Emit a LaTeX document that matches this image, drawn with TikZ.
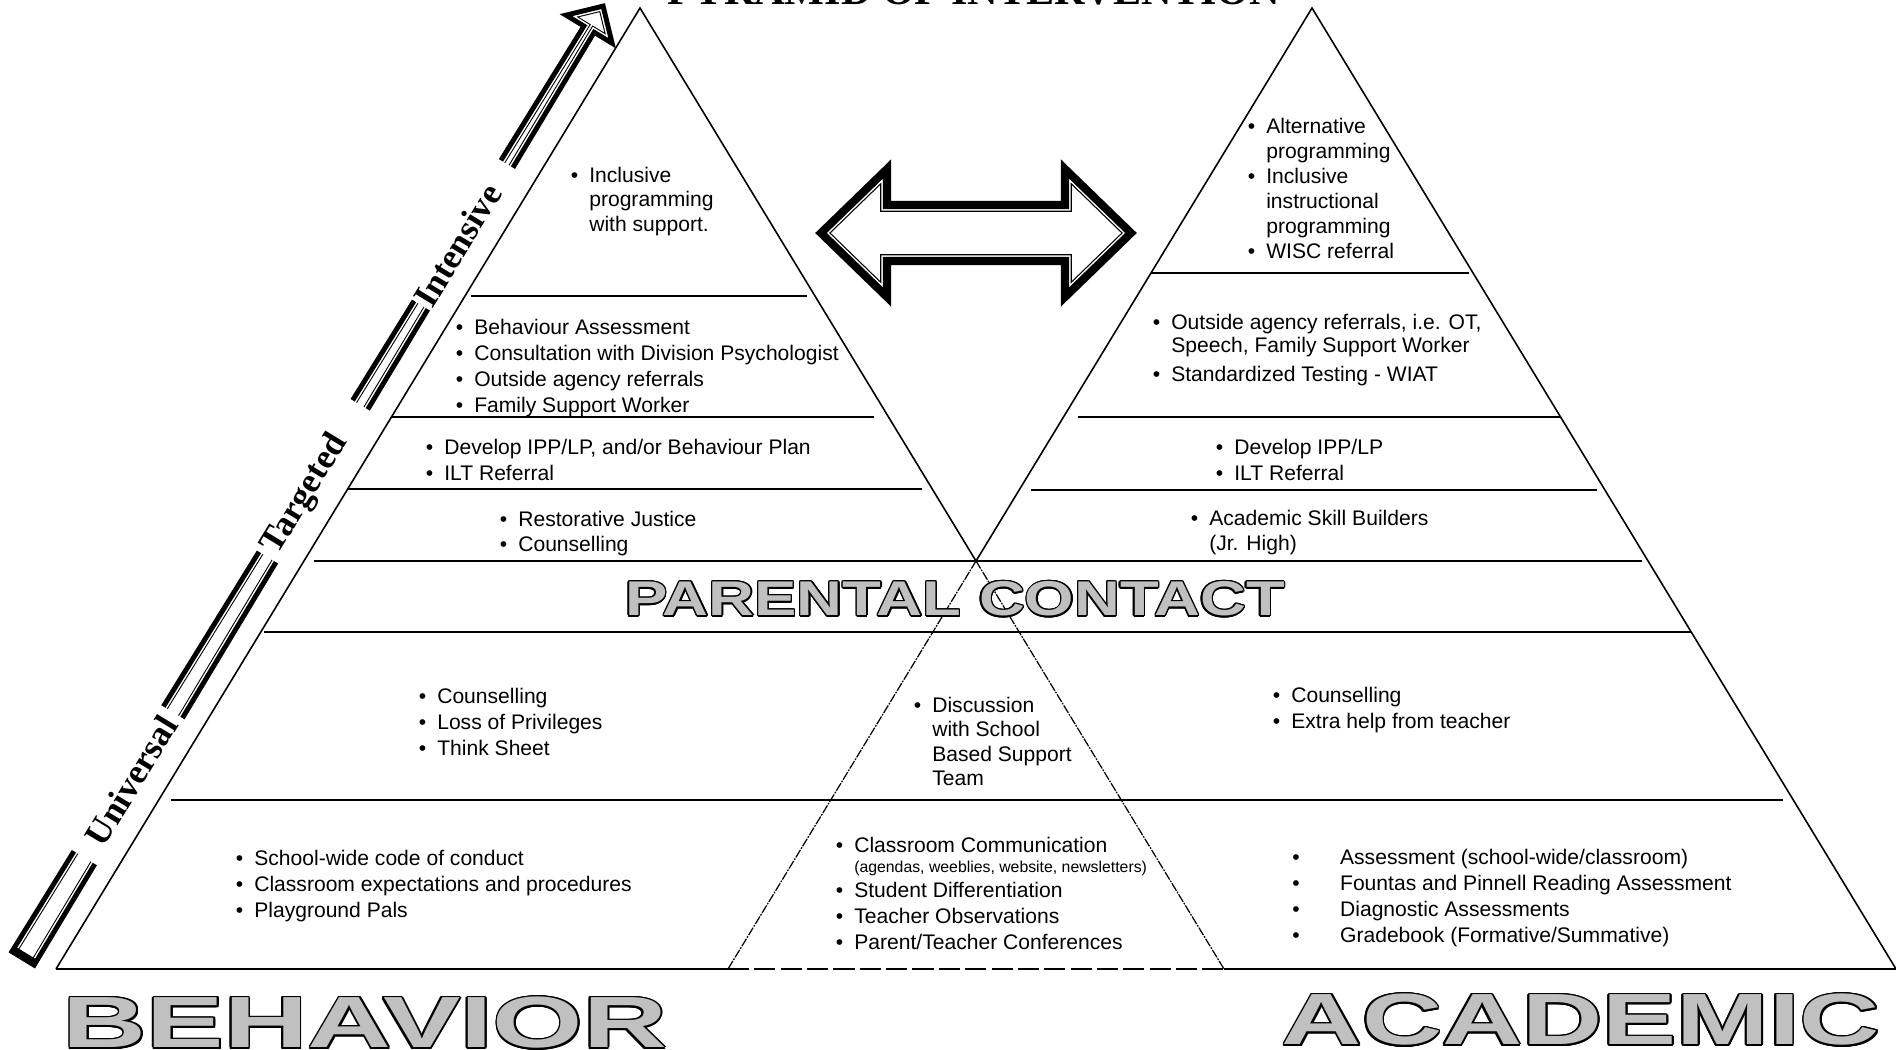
\documentclass[tikz,border=0pt]{standalone}
\usepackage{fontspec}
\setmainfont{Liberation Sans}
\newfontfamily\tnr{Liberation Serif}
\usepackage{graphicx}
\usetikzlibrary{calc}
\definecolor{artgray}{HTML}{C0C0C0}
\tikzset{
  side/.style={line width=0.9pt},
  tier/.style={line width=1.3pt},
  mid/.style={line width=0.7pt, dash pattern=on 5pt off 0.7pt on 1pt off 0.7pt},
  txt/.style={anchor=base west, inner sep=0pt, font=\fontsize{12}{14.8}\selectfont},
  lvl/.style={inner sep=0pt, font=\tnr\bfseries\fontsize{20}{24}\selectfont},
  art/.style={inner sep=0pt}
}
% bullet lists
\newcommand{\blist}[1]{\begin{tabular}[t]{@{}l@{\hspace{6.3pt}}l@{}}#1\end{tabular}}
\newcommand{\wlist}[1]{\begin{tabular}[t]{@{}l@{\hspace{23pt}}l@{}}#1\end{tabular}}
% outlined arrow: half band, gap, inner line, path
\newcommand{\hollowarrow}[4]{%
  \fill[white] #4;
  \begin{scope}
    \clip #4;
    \draw[line width={2*(#1+#2+#3)}] #4;
    \draw[white, line width={2*(#1+#2)}] #4;
  \end{scope}
  \draw[line width={2*#1}] #4;
}
% grey letters with black rim: name, position, size, xscale, rim
\newcommand{\wordart}[6]{%
  \foreach \a in {0,22.5,...,337.5}
    \node[art, font=\bfseries\fontsize{#3}{#3}\selectfont] at ($(#2)+(\a:#5)$) {\scalebox{#4}[1]{#6}};
  \node[art, text=artgray, font=\bfseries\fontsize{#3}{#3}\selectfont] (#1) at (#2) {\scalebox{#4}[1]{#6}};
}

\begin{document}
\begin{tikzpicture}[x=0.02cm, y=-0.02cm]
  \useasboundingbox (0,0) rectangle (1896,1049);

  % level arrow
  \begin{scope}[shift={(22,960)}, rotate=58.65]
    \hollowarrow{1.4pt}{0.85pt}{0.6pt}{(2,-13) -- (1090,-6) -- (1090,-27) -- (1117,0) -- (1090,27) -- (1090,6) -- (2,13) -- cycle}
    \fill[white] (120,-22) rectangle (290,22);
    \fill[white] (472,-22) rectangle (650,22);
    \fill[white] (767,-22) rectangle (932,22);
    \fill (0,-15) rectangle (8,15);
    \node[lvl, transform shape] (univ) at (210,0) {Universal};
    \node[lvl, transform shape] (targ) at (545,0) {Targeted};
    \node[lvl, transform shape] (inten) at (837,0) {Intensive};
  \end{scope}

  % two pyramids
  \coordinate (lt) at (640,8);
  \coordinate (ll) at (56,969);
  \coordinate (lr) at (1224,969);
  \coordinate (rt) at (1312,8);
  \coordinate (rl) at (728,969);
  \coordinate (rr) at (1896,969);
  \coordinate (cross) at (976,561);

  \draw[side] (ll) -- (lt) -- (cross);
  \draw[side] (rr) -- (rt) -- (cross);
  \draw[mid] (cross) -- (lr);
  \draw[mid] (cross) -- (rl);

  \draw[tier] (ll) -- (rl);
  \draw[tier, dash pattern=on 12pt off 3pt] (rl) -- (lr);
  \draw[tier] (lr) -- (rr);

  % tiers: height / left inset / right inset
  \foreach \h/\a/\b in {296/6/8,417/0/15,489/0/10} {
    \pgfmathsetmacro{\f}{(\h-8)/961}
    \draw[tier] ($(lt)!\f!(ll)+(\a,0)$) -- ($(lt)!\f!(lr)-(\b,0)$);
  }
  \foreach \h/\a/\b in {273/0/4,417/15/0,490/12/8} {
    \pgfmathsetmacro{\f}{(\h-8)/961}
    \draw[tier] ($(rt)!\f!(rl)+(\a,0)$) -- ($(rt)!\f!(rr)-(\b,0)$);
  }
  \foreach \h/\a/\b in {561/10/6,632/3/0,800/12/10} {
    \pgfmathsetmacro{\f}{(\h-8)/961}
    \draw[tier] ($(lt)!\f!(ll)+(\a,0)$) -- ($(rt)!\f!(rr)-(\b,0)$);
  }

  % link arrow
  \begin{scope}[shift={(976,233)}]
    \hollowarrow{2.3pt}{0.85pt}{0.7pt}{(-155,0) -- (-89,-64) -- (-89,-28) -- (89,-28) -- (89,-64) -- (155,0) -- (89,64) -- (89,28) -- (-89,28) -- (-89,64) -- cycle}
  \end{scope}

  \node[anchor=base, inner sep=0pt, font=\tnr\bfseries\fontsize{24}{28}\selectfont] (title) at (974,4) {PYRAMID OF INTERVENTION};

  % behaviour side
  \node[txt, font=\fontsize{12}{14}\selectfont] (lincl) at (570.5,182) {\blist{\textbullet & Inclusive\\ & programming\\ & with support.}};
  \node[txt] (lassess) at (455.5,334) {\blist{\textbullet & Behaviour Assessment\\ \textbullet & Consultation with Division Psychologist\\ \textbullet & Outside agency referrals\\ \textbullet & Family Support Worker}};
  \node[txt, font=\fontsize{12}{15}\selectfont] (lplan) at (425.5,454) {\blist{\textbullet & Develop IPP/LP, and/or Behaviour Plan\\ \textbullet & ILT Referral}};
  \node[txt, font=\fontsize{12}{14.5}\selectfont] (ljust) at (499.5,526) {\blist{\textbullet & Restorative Justice\\ \textbullet & Counselling}};

  % academic side
  \node[txt, font=\fontsize{12}{14.2}\selectfont] (rprog) at (1247.5,133.5) {\blist{\textbullet & Alternative\\ & programming\\ \textbullet & Inclusive\\ & instructional\\ & programming\\ \textbullet & WISC referral}};
  \node[txt, font=\fontsize{12}{13.1}\selectfont] (ragency) at (1152.5,329.5) {\blist{\textbullet & Outside agency referrals, i.e. OT,\\ & Speech, Family Support Worker\\[3.6pt] \textbullet & Standardized Testing - WIAT}};
  \node[txt, font=\fontsize{12}{15}\selectfont] (rplan) at (1215.5,454) {\blist{\textbullet & Develop IPP/LP\\ \textbullet & ILT Referral}};
  \node[txt, font=\fontsize{12}{14.2}\selectfont] (rskill) at (1190.5,525.5) {\blist{\textbullet & Academic Skill Builders\\ & (Jr. High)}};

  % lower tiers
  \node[txt] (mcouns) at (418.5,703) {\blist{\textbullet & Counselling\\ \textbullet & Loss of Privileges\\ \textbullet & Think Sheet}};
  \node[txt, font=\fontsize{12}{13.9}\selectfont] (mteam) at (913.5,712.5) {\blist{\textbullet & Discussion\\ & with School\\ & Based Support\\ & Team}};
  \node[txt] (mhelp) at (1272.5,702.5) {\blist{\textbullet & Counselling\\ \textbullet & Extra help from teacher}};
  \node[txt] (bcode) at (235.5,865) {\blist{\textbullet & School-wide code of conduct\\ \textbullet & Classroom expectations and procedures\\ \textbullet & Playground Pals}};
  \node[txt, font=\fontsize{12}{11.7}\selectfont] (bcomm) at (835.5,852) {\blist{\textbullet & Classroom Communication\\ & {\fontsize{9}{11}\selectfont (agendas, weeblies, website, newsletters)}\\[1.7pt] \textbullet & Student Differentiation\\[3.1pt] \textbullet & Teacher Observations\\[2.5pt] \textbullet & Parent/Teacher Conferences}};
  \node[txt] (bassess) at (1292,864) {\wlist{\textbullet & Assessment (school-wide/classroom)\\ \textbullet & Fountas and Pinnell Reading Assessment\\ \textbullet & Diagnostic Assessments\\ \textbullet & Gradebook (Formative/Summative)}};

  % headings
  \wordart{parent}{955,599}{27.8}{1.30}{1.3}{PARENTAL CONTACT}
  \wordart{behavior}{365,1023}{41.3}{1.60}{1.8}{BEHAVIOR}
  \wordart{academic}{1581,1020}{41.3}{1.53}{1.8}{ACADEMIC}
\end{tikzpicture}
\end{document}
